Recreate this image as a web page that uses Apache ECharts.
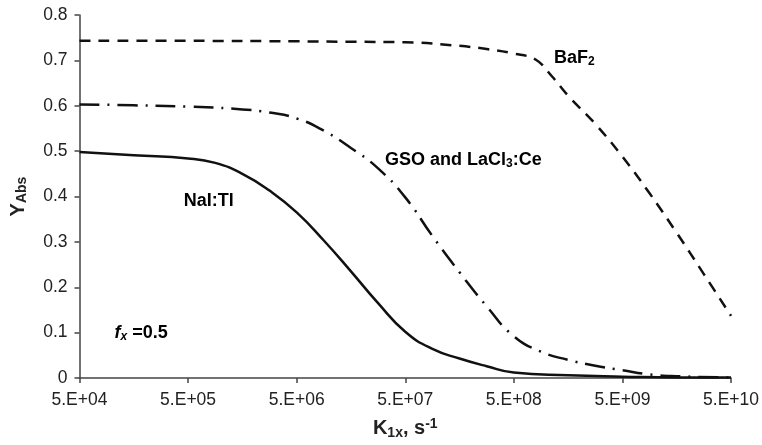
<!DOCTYPE html>
<html>
<head>
<meta charset="utf-8">
<script src="https://cdn.jsdelivr.net/npm/echarts@6/dist/echarts.min.js"></script>
<style>
  html, body { margin: 0; padding: 0; background: #fff; }
  #chart { width: 762px; height: 445px; }
</style>
</head>
<body>
<div id="chart"></div>
<script>
// Decay constant K1x (s^-1) sample points and absorbed-yield values per scintillator
const kNaI = [5e4, 1.58e5, 5e5, 8.89e5, 1.58e6, 2.81e6, 5e6, 8.89e6, 1.58e7, 2.81e7, 5e7, 8.89e7, 1.58e8, 2.81e8, 5e8, 1.58e9, 5e9, 1.58e10, 5e10];
const yNaI = [0.498, 0.491, 0.484, 0.474, 0.450, 0.413, 0.365, 0.303, 0.235, 0.165, 0.102, 0.064, 0.043, 0.026, 0.012, 0.006, 0.003, 0.001, 0.001];

const kGSO = [5e4, 1.58e5, 5e5, 1.58e6, 2.81e6, 5e6, 8.89e6, 1.58e7, 2.81e7, 5e7, 8.89e7, 1.58e8, 2.81e8, 5e8, 8.89e8, 1.58e9, 2.81e9, 5e9, 8.89e9, 1.58e10, 5e10];
const yGSO = [0.603, 0.601, 0.598, 0.592, 0.585, 0.572, 0.545, 0.507, 0.462, 0.398, 0.313, 0.233, 0.158, 0.092, 0.058, 0.040, 0.027, 0.017, 0.008, 0.004, 0.001];

const kBaF = [5e4, 5e5, 5e6, 1.58e7, 5e7, 1.58e8, 2.81e8, 5e8, 7.92e8, 1.12e9, 1.58e9, 2.81e9, 5e9, 8.89e9, 1.58e10, 2.81e10, 5e10];
const yBaF = [0.743, 0.743, 0.742, 0.741, 0.740, 0.732, 0.725, 0.715, 0.702, 0.665, 0.622, 0.560, 0.488, 0.407, 0.320, 0.229, 0.137];

// Axis ticks
const xTickValues = [5e4, 5e5, 5e6, 5e7, 5e8, 5e9, 5e10];
const xTickLabels = ['5.E+04', '5.E+05', '5.E+06', '5.E+07', '5.E+08', '5.E+09', '5.E+10'];
const yTickLabels = ['0', '0.1', '0.2', '0.3', '0.4', '0.5', '0.6', '0.7', '0.8'];

const FONT = '"Liberation Sans", Arial, Helvetica, sans-serif';
const INK = '#111';
const AXIS = '#444';
const TEXT = '#222';

function pairs(ks, ys) { return ks.map((k, i) => [k, ys[i]]); }

const chart = echarts.init(document.getElementById('chart'), null, { renderer: 'canvas' });

const axisLine = { show: true, onZero: false, lineStyle: { color: AXIS, width: 1.5 } };

chart.setOption({
  animation: false,
  backgroundColor: '#fff',
  grid: { left: 73.5, right: 28.5, top: 15, bottom: 66.7, containLabel: false },
  xAxis: {
    type: 'log',
    logBase: 10,
    min: 5e4,
    max: 5e10,
    axisLine: axisLine,
    splitLine: { show: false },
    axisTick: { show: true, inside: false, length: 5, customValues: xTickValues, lineStyle: { color: AXIS, width: 1.5 } },
    axisLabel: {
      customValues: xTickValues,
      color: TEXT, fontFamily: FONT, fontSize: 17.5, margin: 13,
      formatter: (v) => {
        const i = xTickValues.findIndex(t => Math.abs(Math.log10(t) - Math.log10(v)) < 1e-6);
        return i >= 0 ? xTickLabels[i] : '';
      }
    },
    name: '{b|K}{sub|1x}{b|, s}{sup|-1}',
    nameLocation: 'middle',
    nameGap: 39,
    nameTextStyle: {
      rich: {
        b: { fontFamily: FONT, fontWeight: 'bold', fontSize: 20, color: TEXT },
        sub: { fontFamily: FONT, fontWeight: 'bold', fontSize: 14, color: TEXT, verticalAlign: 'bottom', padding: [9, 0, 0, 0] },
        sup: { fontFamily: FONT, fontWeight: 'bold', fontSize: 14, color: TEXT, verticalAlign: 'top', padding: [0, 0, 9, 0] }
      }
    }
  },
  yAxis: {
    type: 'value',
    min: 0,
    max: 0.8,
    interval: 0.1,
    axisLine: axisLine,
    splitLine: { show: false },
    axisTick: { show: true, inside: false, length: 5, lineStyle: { color: AXIS, width: 1.5 } },
    axisLabel: {
      color: TEXT, fontFamily: FONT, fontSize: 17.5, margin: 12,
      formatter: (v) => yTickLabels[Math.round(v * 10)]
    },
    name: '{b|Y}{sub|Abs}',
    nameLocation: 'middle',
    nameGap: 50,
    nameRotate: 90,
    nameTextStyle: {
      rich: {
        b: { fontFamily: FONT, fontWeight: 'bold', fontSize: 20, color: TEXT },
        sub: { fontFamily: FONT, fontWeight: 'bold', fontSize: 14, color: TEXT, verticalAlign: 'bottom', padding: [9, 0, 0, 0] }
      }
    }
  },
  series: [
    {
      name: 'BaF2', type: 'line', data: pairs(kBaF, yBaF), showSymbol: false, smooth: 0.4,
      lineStyle: { color: INK, width: 2.5, type: [11, 8] }
    },
    {
      name: 'GSO and LaCl3:Ce', type: 'line', data: pairs(kGSO, yGSO), showSymbol: false, smooth: 0.5,
      lineStyle: { color: INK, width: 2.5, type: [20, 8, 2, 8] }
    },
    {
      name: 'NaI:Tl', type: 'line', data: pairs(kNaI, yNaI), showSymbol: false, smooth: 0.5,
      lineStyle: { color: INK, width: 2.5, type: 'solid' }
    }
  ]
});

// Curve annotations, anchored to data coordinates (left edge, vertical centre)
const notes = [
  { at: [1.17e9, 0.705], text: '{b|BaF}{sub|2}' },
  { at: [3.25e7, 0.481], text: '{b|GSO and LaCl}{sub|3}{b|:Ce}' },
  { at: [4.55e5, 0.39], text: '{b|NaI:Tl}' },
  { at: [1.05e5, 0.10], text: '{i|f}{isub|x}{b| =0.5}' }
];
const noteRich = {
  b: { fontFamily: FONT, fontWeight: 'bold', fontSize: 18, color: TEXT },
  sub: { fontFamily: FONT, fontWeight: 'bold', fontSize: 12, color: TEXT, verticalAlign: 'bottom', padding: [8, 0, 0, 0] },
  i: { fontFamily: FONT, fontWeight: 'bold', fontStyle: 'italic', fontSize: 18, color: TEXT },
  isub: { fontFamily: FONT, fontWeight: 'bold', fontStyle: 'italic', fontSize: 12, color: TEXT, verticalAlign: 'bottom', padding: [8, 0, 0, 0] }
};
chart.setOption({
  graphic: notes.map(n => {
    const p = chart.convertToPixel({ gridIndex: 0 }, n.at);
    return {
      type: 'text', x: p[0], y: p[1],
      style: { text: n.text, rich: noteRich, verticalAlign: 'middle', align: 'left' }
    };
  })
});
</script>
</body>
</html>
